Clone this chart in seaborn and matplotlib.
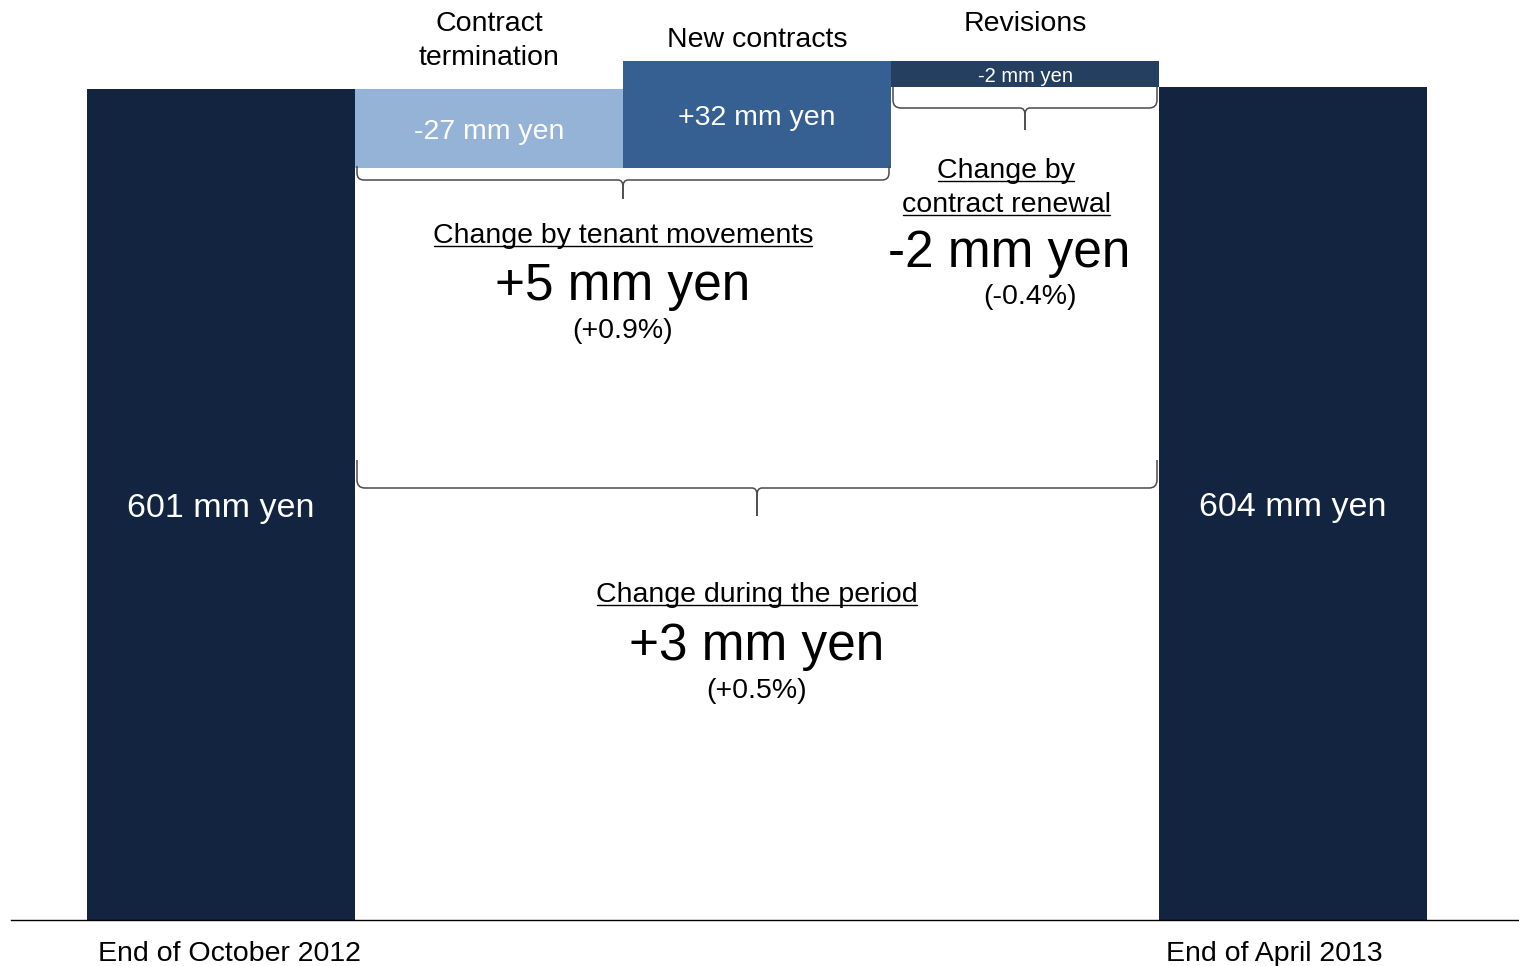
import numpy as np
import pandas as pd
import matplotlib
matplotlib.use("Agg")
import matplotlib.pyplot as plt
import seaborn as sns
from matplotlib.path import Path
from matplotlib.patches import PathPatch
from matplotlib.transforms import IdentityTransform, blended_transform_factory
from matplotlib.lines import Line2D

# ---------------- data ----------------
categories = ["End of October 2012", "Contract termination", "New contracts",
              "Revisions", "End of April 2013"]
header_labels = ["", ["Contract", "termination"], ["New contracts"], ["Revisions"], ""]
start_total = 601
end_total = 604
changes = [-27, 32, -2]
bar_labels = ["601 mm yen", "-27 mm yen", "+32 mm yen", "-2 mm yen", "604 mm yen"]

group_titles = ["Change by tenant movements", ["Change by", "contract renewal"],
                "Change during the period"]
group_values = ["+5 mm yen", "-2 mm yen", "+3 mm yen"]
group_pcts = ["(+0.9%)", "(-0.4%)", "(+0.5%)"]

# ---------------- style ----------------
NAVY = "#12243F"
step_colors = ["#95B3D7", "#366092", "#243F60"]
BRACE = "#4a4a4a"

sns.set_theme(style="white")
plt.rcParams["font.family"] = ["Liberation Sans", "DejaVu Sans"]
plt.rcParams["text.color"] = "black"
plt.rcParams["xtick.color"] = "black"

W, H = 1519, 966
fig = plt.figure(figsize=(W / 100, H / 100), dpi=100)
ax = fig.add_axes([11 / W, 46 / H, 1 - 11 / W, 920 / H])

# schematic (piecewise-linear) value axis, as in the reference drawing
SCALE_V = [-1000, 0, 574, 601, 604, 606, 1000]
SCALE_U = [-1310, 0, 752, 831, 833, 859, 859 + 394 * 13]


def fwd(v):
    return np.interp(np.asarray(v, dtype=float), SCALE_V, SCALE_U)


def inv(u):
    return np.interp(np.asarray(u, dtype=float), SCALE_U, SCALE_V)


# totals with seaborn
sns.barplot(x=[categories[0], categories[-1]], y=[start_total, end_total],
            order=categories, color=NAVY, saturation=1, width=1,
            linewidth=0, ax=ax)

# floating steps
bottoms, heights = [], []
level = start_total
for c in changes:
    bottoms.append(min(level, level + c))
    heights.append(abs(c))
    level += c
step_x = np.arange(1, 1 + len(changes))
ax.bar(step_x, heights, bottom=bottoms, width=1, color=step_colors, linewidth=0)

ax.set_yscale("function", functions=(fwd, inv))
ax.set_ylim(0, float(inv(920)))
ax.set_xlim(-0.5 - 76 / 268, 4.5 + 92 / 268)
ax.set_yticks([])
ax.set_xlabel("")
ax.set_ylabel("")
ax.set_xticks([0.03, 3.93], [categories[0], categories[-1]])
ax.tick_params(axis="x", length=0, pad=15, labelsize=20.5, colors="black")
for s in ["left", "right", "top"]:
    ax.spines[s].set_visible(False)
ax.spines["bottom"].set_color("black")
ax.spines["bottom"].set_linewidth(1.0)

# bar value labels
tops = [start_total] + [b + h for b, h in zip(bottoms, heights)] + [end_total]
bots = [0] + bottoms + [0]
sizes = [24.5, 20.5, 20.5, 14.5, 24.5]
for i, (lab, b, t, fs) in enumerate(zip(bar_labels, bots, tops, sizes)):
    ymid = float(inv((fwd(b) + fwd(t)) / 2))
    ax.text(i, ymid, lab, ha="center", va="center_baseline", color="white",
            fontsize=fs)

tr = blended_transform_factory(ax.transData, ax.transAxes)


def fy(py):
    return (920 - py) / 920


# headers above steps (baselines in pixels from top)
header_baselines = {1: [31, 65], 2: [47], 3: [31]}
for i, lines in enumerate(header_labels):
    if not lines:
        continue
    for line, pb in zip(lines, header_baselines[i]):
        ax.text(i, fy(pb), line, transform=tr, ha="center", va="baseline",
                fontsize=20.5)

underlined = []
# tenant movements
underlined.append(ax.text(1.5, fy(243), group_titles[0], transform=tr,
                          ha="center", va="baseline", fontsize=20.5))
ax.text(1.5, fy(300), group_values[0], transform=tr, ha="center",
        va="baseline", fontsize=37)
ax.text(1.5, fy(338), group_pcts[0], transform=tr, ha="center",
        va="baseline", fontsize=20.5)
# contract renewal
underlined.append(ax.text(2.93, fy(178), group_titles[1][0], transform=tr,
                          ha="center", va="baseline", fontsize=20.5))
underlined.append(ax.text(2.93, fy(212), group_titles[1][1], transform=tr,
                          ha="center", va="baseline", fontsize=20.5))
ax.text(2.94, fy(267), group_values[1], transform=tr, ha="center",
        va="baseline", fontsize=37)
ax.text(3.02, fy(304), group_pcts[1], transform=tr, ha="center",
        va="baseline", fontsize=20.5)
# period
underlined.append(ax.text(2, fy(602), group_titles[2], transform=tr,
                          ha="center", va="baseline", fontsize=20.5))
ax.text(2, fy(660), group_values[2], transform=tr, ha="center",
        va="baseline", fontsize=37)
ax.text(2, fy(698), group_pcts[2], transform=tr, ha="center",
        va="baseline", fontsize=20.5)


def brace(x0, x1, pt, pm, ptip, r_end, r_mid):
    """Curly brace in display coords; x in data units, y in pixels from top."""
    X0 = ax.transData.transform((x0, 0))[0] + 2
    X1 = ax.transData.transform((x1, 0))[0] - 2
    XC = (X0 + X1) / 2
    yt, ym, yp = H - pt, H - pm, H - ptip
    for xa, sgn in ((X0, 1), (X1, -1)):
        verts = [(xa, yt), (xa, ym + r_end), (xa, ym), (xa + sgn * r_end, ym),
                 (XC - sgn * r_mid, ym), (XC, ym), (XC, ym - r_mid * 1.4),
                 (XC, yp)]
        codes = [Path.MOVETO, Path.LINETO, Path.CURVE3, Path.CURVE3,
                 Path.LINETO, Path.CURVE3, Path.CURVE3, Path.LINETO]
        fig.add_artist(PathPatch(Path(verts, codes), fill=False,
                                 edgecolor=BRACE, lw=1.1,
                                 transform=IdentityTransform()))


brace(0.5, 2.5, 166, 180, 199, 7, 5)
brace(2.5, 3.5, 87, 108, 130, 8, 5)
brace(0.5, 3.5, 460, 488, 516, 8, 5)

fig.canvas.draw()
renderer = fig.canvas.get_renderer()
for t in underlined:
    bb = t.get_window_extent(renderer)
    yb = tr.transform(t.get_position())[1]
    fig.add_artist(Line2D([bb.x0 + 1, bb.x1 - 1], [yb - 3, yb - 3],
                          color="black", lw=1.0,
                          transform=IdentityTransform()))

fig.savefig("out.png", dpi=100, facecolor="white")
